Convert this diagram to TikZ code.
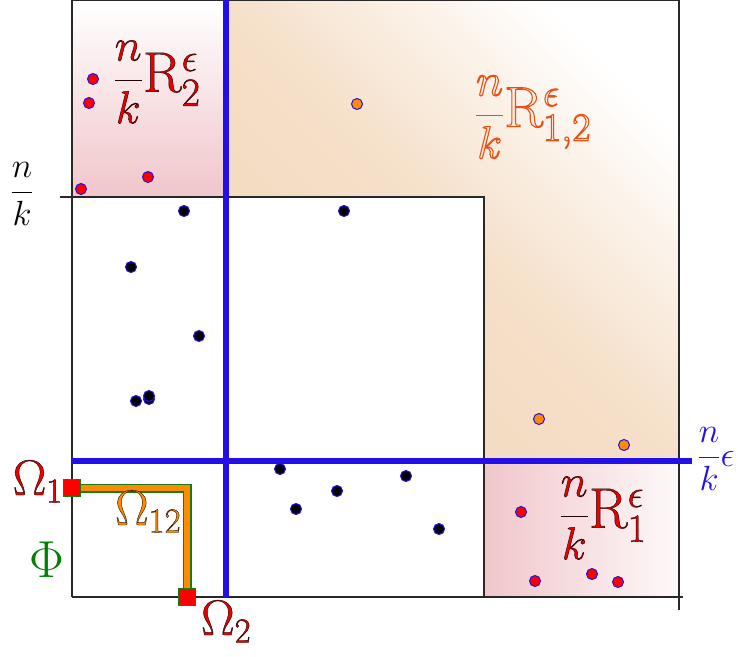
\RequirePackage{fix-cm}
\documentclass[tikz,border=0pt]{standalone}
\usepackage{amsmath}
\definecolor{bluel}{RGB}{35,15,232}
\definecolor{redd}{RGB}{235,0,0}
\definecolor{orangeT}{RGB}{232,80,20}
\definecolor{orangeP}{RGB}{255,140,0}
\definecolor{greenP}{RGB}{20,125,20}
\definecolor{greenT}{RGB}{0,128,0}
\definecolor{pinkS}{RGB}{240,198,202}
\definecolor{tanS}{RGB}{243,216,188}
\definecolor{frameC}{RGB}{40,40,40}
\newcommand{\outl}[2]{\special{pdf:literal direct #1 2 Tr}#2\special{pdf:literal direct 0 Tr}}
\newcommand{\hollow}[2]{\special{pdf:literal direct #1 1 Tr}#2\special{pdf:literal direct 0 Tr}}
\newcommand{\bigsz}{\fontsize{46}{50}\selectfont}
\newcommand{\rsz}{\fontsize{57}{60}\selectfont}
\newcommand{\omsz}{\fontsize{50}{54}\selectfont}
\newcommand{\midsz}{\fontsize{35}{40}\selectfont}
\begin{document}
\begin{tikzpicture}[x=1pt,y=-1pt,
  frame/.style={draw=frameC,line width=1.3pt},
  blueline/.style={draw=bluel,line width=6pt},
  pt/.style={circle,inner sep=0pt,minimum size=11pt,draw=bluel,line width=1pt},
  ptred/.style={pt,fill=red},
  ptor/.style={pt,fill=orangeP},
  ptbl/.style={pt,fill=black},
  sq/.style={rectangle,inner sep=0pt,minimum size=17pt,fill=red,draw=greenP,line width=1.5pt},
  lab/.style={inner sep=0pt}]
\useasboundingbox (0,0) rectangle (738,656);
% shaded regions
\shade[top color=white,bottom color=pinkS] (72,0) rectangle (226,197);
\shade[top color=white,bottom color=tanS,middle color=tanS!80!white,shading angle=-45]
  (226,0) -- (679,0) -- (679,461) -- (484,461) -- (484,197) -- (226,197) -- cycle;
\shade[left color=pinkS,right color=white!90!pinkS] (484,461) rectangle (679,597);
% frame
\draw[frame] (72,0.6) -- (679,0.6);
\draw[frame] (72,0) -- (72,597);
\draw[frame] (679,0) -- (679,610);
\draw[frame] (72,597) -- (683,597);
\draw[frame] (60,197) -- (484,197) -- (484,597);
% blue lines
\draw[blueline] (226,0) -- (226,597);
\draw[blueline] (72,461) -- (692,461);
% points
\node[ptred] (r1) at (93,79) {};
\node[ptred] (r2) at (89,103) {};
\node[ptred] (r3) at (81,189) {};
\node[ptred] (r4) at (148,177) {};
\node[ptor] (o1) at (357,104) {};
\node[ptor] (o2) at (539,419) {};
\node[ptor] (o3) at (624,445) {};
\node[ptbl] (b1) at (184,211) {};
\node[ptbl] (b2) at (344,211) {};
\node[ptbl] (b3) at (131,267) {};
\node[ptbl] (b4) at (199,336) {};
\node[ptbl] (b5) at (136,401) {};
\node[ptbl] (b6) at (149,399) {};
\node[ptbl] (b7) at (149,396) {};
\node[ptbl] (b8) at (280,469) {};
\node[ptbl] (b9) at (296,509) {};
\node[ptbl] (b10) at (337,491) {};
\node[ptbl] (b11) at (406,476) {};
\node[ptbl] (b12) at (439,529) {};
\node[ptred] (q1) at (521,512) {};
\node[ptred] (q2) at (535,581) {};
\node[ptred] (q3) at (592,574) {};
\node[ptred] (q4) at (618,582) {};
% Omega path
\coordinate (c1) at (72,488);
\coordinate (c2) at (187,597);
\draw[draw=greenP,line width=9pt] (c1) -| (c2);
\draw[draw=orangeP,line width=5.5pt] (c1) -| (c2);
\node[sq] (s1) at (c1) {};
\node[sq] (s2) at (c2) {};
% labels
\node[lab,text=redd] (lR2) at (157,82) {\bigsz\outl{0.15 0 0 RG 0.45 w}{$\dfrac{n}{k}$\rsz$\mathrm{R}^{\epsilon}_{2}$}};
\node[lab,text=orangeT] (lR12) at (533,117) {\bigsz\hollow{1.1 w}{$\dfrac{n}{k}$\rsz$\mathrm{R}^{\epsilon}_{1,2}$}};
\node[lab,text=redd] (lR1) at (603,518) {\bigsz\outl{0.15 0 0 RG 0.45 w}{$\dfrac{n}{k}$\rsz$\mathrm{R}^{\epsilon}_{1}$}};
\node[lab] (lnk) at (22,194) {\midsz$\dfrac{n}{k}$};
\node[lab,text=bluel] (lnke) at (716,459) {\midsz$\dfrac{n}{k}\epsilon$};
\node[lab,text=redd,anchor=base east] (lO1) at (63,495) {\omsz\outl{0.15 0 0 RG 0.45 w}{$\Omega_{1}$}};
\node[lab,text=orangeP,anchor=base west] (lO12) at (115,525) {\omsz\outl{0.2 0.1 0 RG 0.45 w}{$\Omega_{12}$}};
\node[lab,text=greenT,anchor=base west] (lPhi) at (29,577) {\fontsize{52}{56}\selectfont$\Phi$};
\node[lab,text=redd,anchor=base west] (lO2) at (201,635) {\omsz\outl{0.15 0 0 RG 0.45 w}{$\Omega_{2}$}};
\end{tikzpicture}
\end{document}
